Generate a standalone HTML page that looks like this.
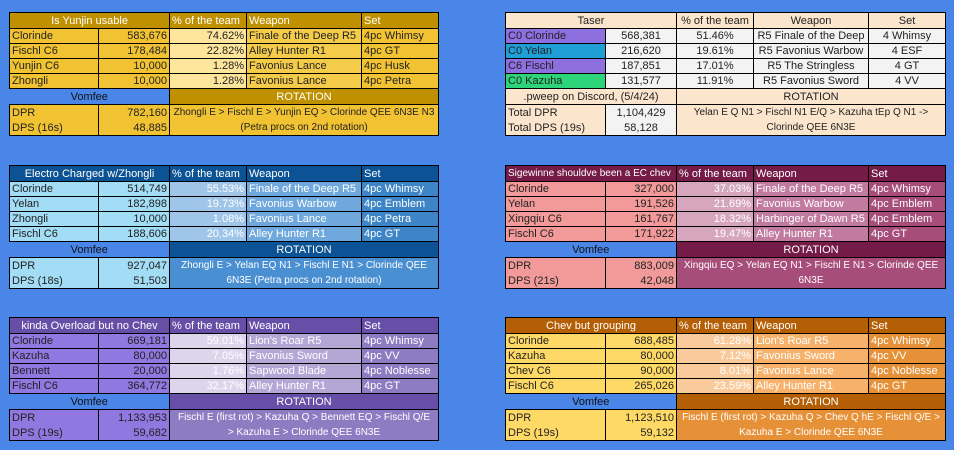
<!DOCTYPE html>
<html><head><meta charset="utf-8"><style>
body{margin:0;width:954px;height:450px;background:#4a86e8;position:relative;overflow:hidden;font-family:"Liberation Sans",sans-serif;font-size:11px;}
table{position:absolute;border-collapse:collapse;table-layout:fixed;}
td{border:1px solid #000;padding:0 2px;white-space:nowrap;overflow:hidden;height:14px;line-height:14px;color:#222;}
tr.h td{height:15px;}
tr.v td{height:15px;}
tr.d td{height:15px;}
.r{text-align:right}.c{text-align:center}
td.vm{border-left:none;border-top:none;background:#4a86e8 !important;color:#111;text-align:center;}
.rot{text-align:center;white-space:nowrap;line-height:15px;font-size:10px;}
.L{left:9px;width:429px}.R{left:505px;width:440px}
.L col.a{width:89px}.L col.b{width:71px}.L col.p{width:77px}.L col.w{width:115px}.L col.s{width:77px}
.R col.a{width:100px}.R col.b{width:71px}.R col.p{width:77px}.R col.w{width:115px}.R col.s{width:77px}
.y .hd{background:#bf9000;color:#fff}.y .n{background:#f1c232}.y .p{background:#fde59c}.y .w{background:#f5cc4a}.y .s{background:#f1c232}.y .rb{background:#f1c232}
.b .hd{background:#0b5394;color:#fff}.b .n{background:#a2dcf5}.b .p{background:#9fc5e8;color:#fff}.b .w{background:#6fa8dc;color:#fff}.b .s{background:#3d85c6;color:#fff}.b .rb{background:#4a8fd2;color:#fff}
.pu .hd{background:#674ea7;color:#fff}.pu .n{background:#9177e0}.pu .p{background:#dcd5ec;color:#fff}.pu .w{background:#b4a7d6;color:#fff}.pu .s{background:#8e7cc3;color:#fff}.pu .rb{background:#8e7cc3;color:#fff}
.pe td{background:#fce5cd}.pe .g{background:#f3f3f3}
.m .hd{background:#741b47;color:#fff}.m .n{background:#f29a9a}.m .p{background:#d5a6bd;color:#fff}.m .w{background:#c27ba0;color:#fff}.m .s{background:#a64d79;color:#fff}.m .rb{background:#a64d79;color:#fff}
.o .hd{background:#b45f06;color:#fff}.o .n{background:#ffd966}.o .p{background:#f9cb9c;color:#fff}.o .w{background:#f6b26b;color:#fff}.o .s{background:#e69138;color:#fff}.o .rb{background:#e69138;color:#fff}
</style></head><body>

<table class="L y" style="top:12px"><colgroup><col class="a"><col class="b"><col class="p"><col class="w"><col class="s"></colgroup>
<tr class="h"><td class="hd c" colspan="2">Is Yunjin usable</td><td class="hd">% of the team</td><td class="hd">Weapon</td><td class="hd">Set</td></tr>
<tr><td class="n">Clorinde</td><td class="n r">583,676</td><td class="p r">74.62%</td><td class="w">Finale of the Deep R5</td><td class="s">4pc Whimsy</td></tr>
<tr><td class="n">Fischl C6</td><td class="n r">178,484</td><td class="p r">22.82%</td><td class="w">Alley Hunter R1</td><td class="s">4pc GT</td></tr>
<tr><td class="n">Yunjin C6</td><td class="n r">10,000</td><td class="p r">1.28%</td><td class="w">Favonius Lance</td><td class="s">4pc Husk</td></tr>
<tr><td class="n">Zhongli</td><td class="n r">10,000</td><td class="p r">1.28%</td><td class="w">Favonius Lance</td><td class="s">4pc Petra</td></tr>
<tr class="v"><td class="vm" colspan="2">Vomfee</td><td class="hd c" colspan="3">ROTATION</td></tr>
<tr class="d"><td class="n" style="border-bottom:none">DPR</td><td class="n r" style="border-bottom:none">782,160</td><td class="rb rot" colspan="3" rowspan="2">Zhongli E &gt; Fischl E &gt; Yunjin EQ &gt; Clorinde QEE 6N3E N3<br>(Petra procs on 2nd rotation)</td></tr>
<tr class="d"><td class="n" style="border-top:none">DPS (16s)</td><td class="n r" style="border-top:none">48,885</td></tr>
</table>

<table class="L b" style="top:165px"><colgroup><col class="a"><col class="b"><col class="p"><col class="w"><col class="s"></colgroup>
<tr class="h"><td class="hd c" colspan="2">Electro Charged w/Zhongli</td><td class="hd">% of the team</td><td class="hd">Weapon</td><td class="hd">Set</td></tr>
<tr><td class="n">Clorinde</td><td class="n r">514,749</td><td class="p r">55.53%</td><td class="w">Finale of the Deep R5</td><td class="s">4pc Whimsy</td></tr>
<tr><td class="n">Yelan</td><td class="n r">182,898</td><td class="p r">19.73%</td><td class="w">Favonius Warbow</td><td class="s">4pc Emblem</td></tr>
<tr><td class="n">Zhongli</td><td class="n r">10,000</td><td class="p r">1.08%</td><td class="w">Favonius Lance</td><td class="s">4pc Petra</td></tr>
<tr><td class="n">Fischl C6</td><td class="n r">188,606</td><td class="p r">20.34%</td><td class="w">Alley Hunter R1</td><td class="s">4pc GT</td></tr>
<tr class="v"><td class="vm" colspan="2">Vomfee</td><td class="hd c" colspan="3">ROTATION</td></tr>
<tr class="d"><td class="n" style="border-bottom:none">DPR</td><td class="n r" style="border-bottom:none">927,047</td><td class="rb rot" colspan="3" rowspan="2">Zhongli E &gt; Yelan EQ N1 &gt; Fischl E N1 &gt; Clorinde QEE<br>6N3E (Petra procs on 2nd rotation)</td></tr>
<tr class="d"><td class="n" style="border-top:none">DPS (18s)</td><td class="n r" style="border-top:none">51,503</td></tr>
</table>

<table class="L pu" style="top:317px"><colgroup><col class="a"><col class="b"><col class="p"><col class="w"><col class="s"></colgroup>
<tr class="h"><td class="hd c" colspan="2">kinda Overload but no Chev</td><td class="hd">% of the team</td><td class="hd">Weapon</td><td class="hd">Set</td></tr>
<tr><td class="n">Clorinde</td><td class="n r">669,181</td><td class="p r">59.01%</td><td class="w">Lion's Roar R5</td><td class="s">4pc Whimsy</td></tr>
<tr><td class="n">Kazuha</td><td class="n r">80,000</td><td class="p r">7.05%</td><td class="w">Favonius Sword</td><td class="s">4pc VV</td></tr>
<tr><td class="n">Bennett</td><td class="n r">20,000</td><td class="p r">1.76%</td><td class="w">Sapwood Blade</td><td class="s">4pc Noblesse</td></tr>
<tr><td class="n">Fischl C6</td><td class="n r">364,772</td><td class="p r">32.17%</td><td class="w">Alley Hunter R1</td><td class="s">4pc GT</td></tr>
<tr class="v"><td class="vm" colspan="2">Vomfee</td><td class="hd c" colspan="3">ROTATION</td></tr>
<tr class="d"><td class="n" style="border-bottom:none">DPR</td><td class="n r" style="border-bottom:none">1,133,953</td><td class="rb rot" colspan="3" rowspan="2">Fischl E (first rot) &gt; Kazuha Q &gt; Bennett EQ &gt; Fischl Q/E<br>&gt; Kazuha E &gt; Clorinde QEE 6N3E</td></tr>
<tr class="d"><td class="n" style="border-top:none">DPS (19s)</td><td class="n r" style="border-top:none">59,682</td></tr>
</table>

<table class="R pe" style="top:12px"><colgroup><col class="a"><col class="b"><col class="p"><col class="w"><col class="s"></colgroup>
<tr class="h"><td class="c" colspan="2">Taser</td><td class="c">% of the team</td><td class="c">Weapon</td><td class="c">Set</td></tr>
<tr><td style="background:#8e6fe0">C0 Clorinde</td><td class="g c">568,381</td><td class="g c">51.46%</td><td class="g c">R5 Finale of the Deep</td><td class="g c">4 Whimsy</td></tr>
<tr><td style="background:#1f9fd6">C0 Yelan</td><td class="g c">216,620</td><td class="g c">19.61%</td><td class="g c">R5 Favonius Warbow</td><td class="g c">4 ESF</td></tr>
<tr><td style="background:#8e6fe0">C6 Fischl</td><td class="g c">187,851</td><td class="g c">17.01%</td><td class="g c">R5 The Stringless</td><td class="g c">4 GT</td></tr>
<tr><td style="background:#2ed47a">C0 Kazuha</td><td class="g c">131,577</td><td class="g c">11.91%</td><td class="g c">R5 Favonius Sword</td><td class="g c">4 VV</td></tr>
<tr class="v"><td class="c" colspan="2">.pweep on Discord, (5/4/24)</td><td class="c" colspan="3">ROTATION</td></tr>
<tr class="d"><td style="border-bottom:none">Total DPR</td><td class="g c" style="border-bottom:none">1,104,429</td><td class="rot" colspan="3" rowspan="2">Yelan E Q N1 &gt; Fischl N1 E/Q &gt; Kazuha tEp Q N1 -&gt;<br>Clorinde QEE 6N3E</td></tr>
<tr class="d"><td style="border-top:none">Total DPS (19s)</td><td class="g c" style="border-top:none">58,128</td></tr>
</table>

<table class="R m" style="top:165px"><colgroup><col class="a"><col class="b"><col class="p"><col class="w"><col class="s"></colgroup>
<tr class="h"><td class="hd" colspan="2" style="font-size:10px">Sigewinne shouldve been a EC chev</td><td class="hd">% of the team</td><td class="hd">Weapon</td><td class="hd">Set</td></tr>
<tr><td class="n">Clorinde</td><td class="n r">327,000</td><td class="p r">37.03%</td><td class="w">Finale of the Deep R5</td><td class="s">4pc Whimsy</td></tr>
<tr><td class="n">Yelan</td><td class="n r">191,526</td><td class="p r">21.69%</td><td class="w">Favonius Warbow</td><td class="s">4pc Emblem</td></tr>
<tr><td class="n">Xingqiu C6</td><td class="n r">161,767</td><td class="p r">18.32%</td><td class="w">Harbinger of Dawn R5</td><td class="s">4pc Emblem</td></tr>
<tr><td class="n">Fischl C6</td><td class="n r">171,922</td><td class="p r">19.47%</td><td class="w">Alley Hunter R1</td><td class="s">4pc GT</td></tr>
<tr class="v"><td class="vm" colspan="2">Vomfee</td><td class="hd c" colspan="3">ROTATION</td></tr>
<tr class="d"><td class="n" style="border-bottom:none">DPR</td><td class="n r" style="border-bottom:none">883,009</td><td class="rb rot" colspan="3" rowspan="2">Xingqiu EQ &gt; Yelan EQ N1 &gt; Fischl E N1 &gt; Clorinde QEE<br>6N3E</td></tr>
<tr class="d"><td class="n" style="border-top:none">DPS (21s)</td><td class="n r" style="border-top:none">42,048</td></tr>
</table>

<table class="R o" style="top:317px"><colgroup><col class="a"><col class="b"><col class="p"><col class="w"><col class="s"></colgroup>
<tr class="h"><td class="hd c" colspan="2">Chev but grouping</td><td class="hd">% of the team</td><td class="hd">Weapon</td><td class="hd">Set</td></tr>
<tr><td class="n">Clorinde</td><td class="n r">688,485</td><td class="p r">61.28%</td><td class="w">Lion's Roar R5</td><td class="s">4pc Whimsy</td></tr>
<tr><td class="n">Kazuha</td><td class="n r">80,000</td><td class="p r">7.12%</td><td class="w">Favonius Sword</td><td class="s">4pc VV</td></tr>
<tr><td class="n">Chev C6</td><td class="n r">90,000</td><td class="p r">8.01%</td><td class="w">Favonius Lance</td><td class="s">4pc Noblesse</td></tr>
<tr><td class="n">Fischl C6</td><td class="n r">265,026</td><td class="p r">23.59%</td><td class="w">Alley Hunter R1</td><td class="s">4pc GT</td></tr>
<tr class="v"><td class="vm" colspan="2">Vomfee</td><td class="hd c" colspan="3">ROTATION</td></tr>
<tr class="d"><td class="n" style="border-bottom:none">DPR</td><td class="n r" style="border-bottom:none">1,123,510</td><td class="rb rot" colspan="3" rowspan="2">Fischl E (first rot) &gt; Kazuha Q &gt; Chev Q hE &gt; Fischl Q/E &gt;<br>Kazuha E &gt; Clorinde QEE 6N3E</td></tr>
<tr class="d"><td class="n" style="border-top:none">DPS (19s)</td><td class="n r" style="border-top:none">59,132</td></tr>
</table>

</body></html>
